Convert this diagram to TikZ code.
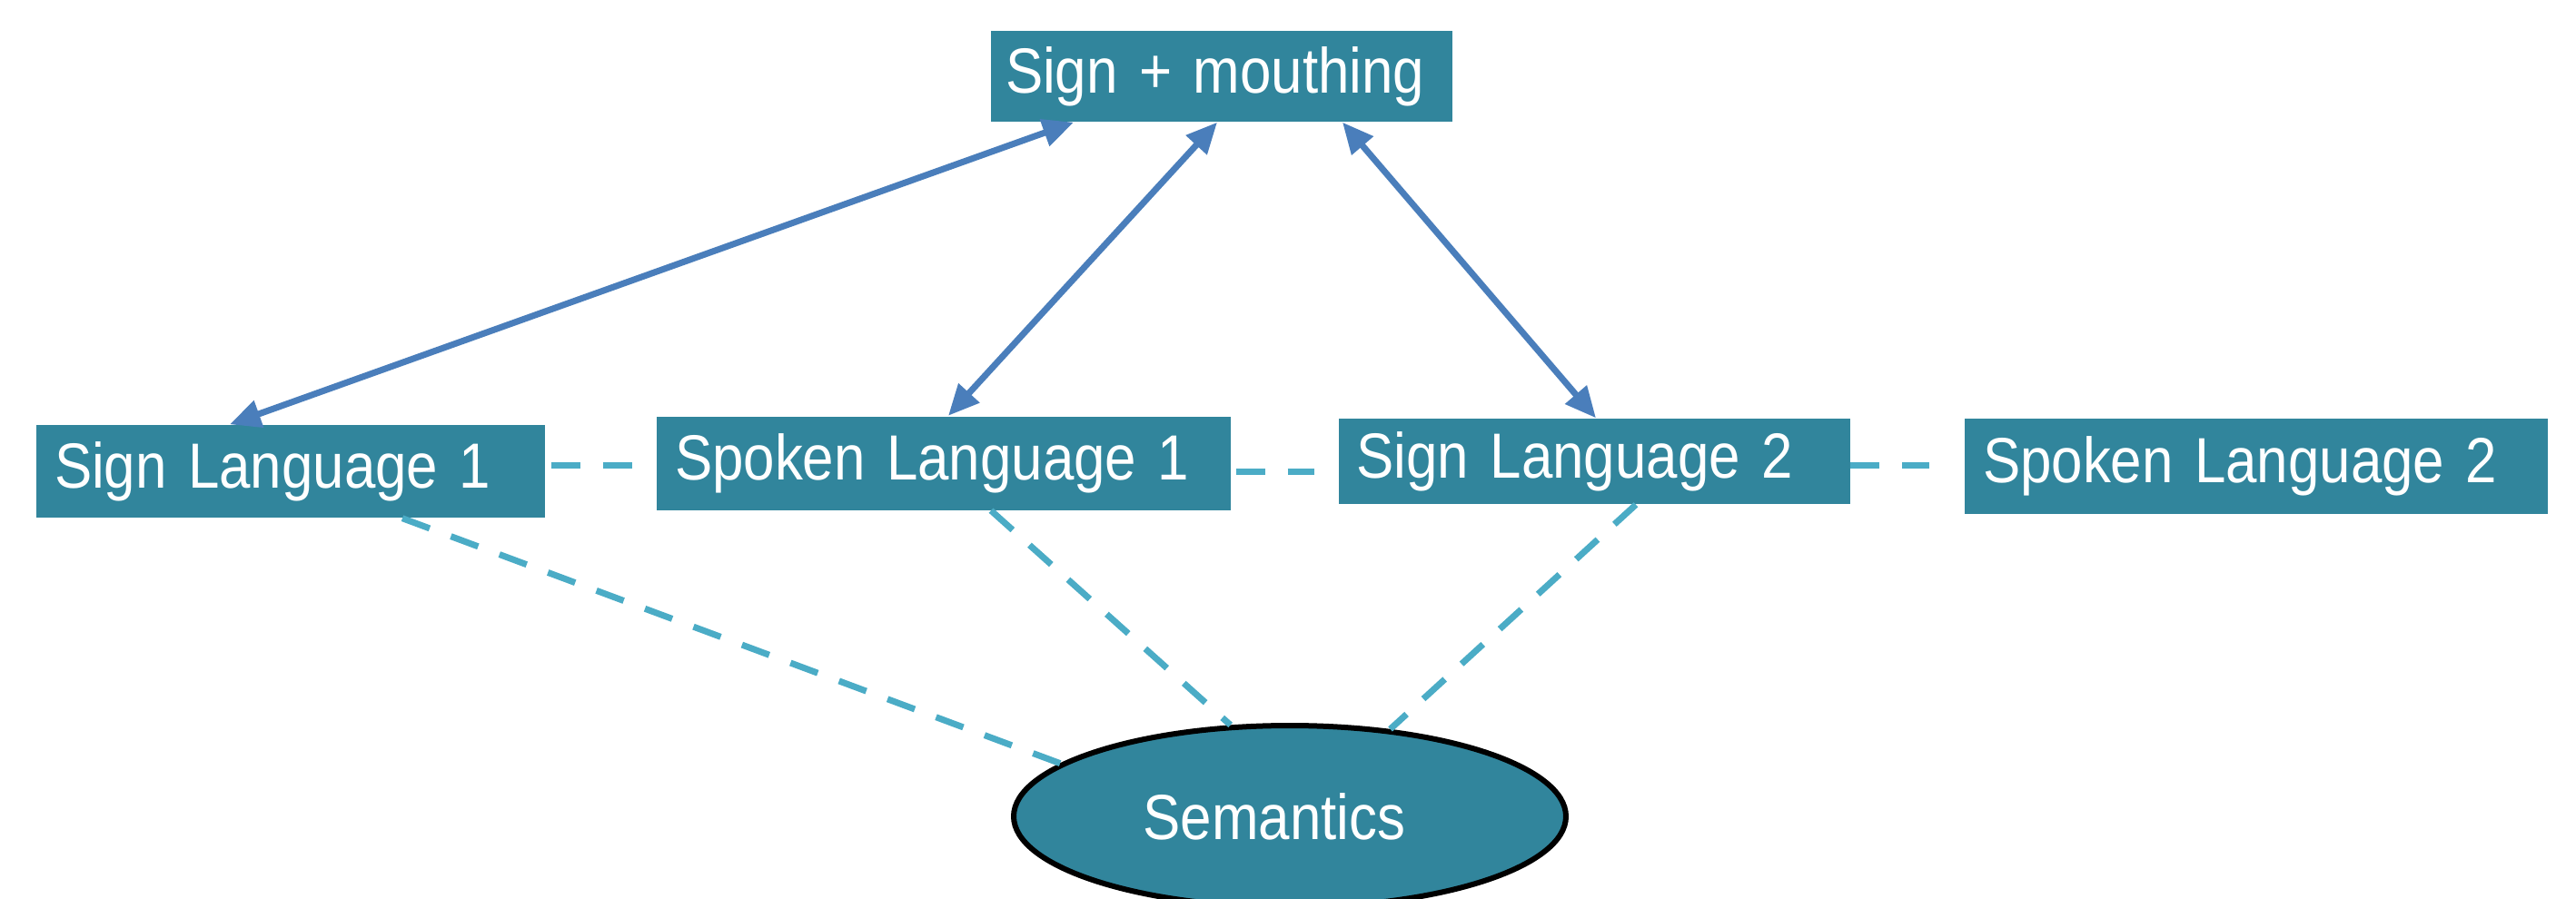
\documentclass[tikz,border=0pt]{standalone}
\usepackage{fontspec}
\setmainfont{Liberation Sans}[FakeStretch=0.88]
\usetikzlibrary{shapes.geometric, arrows.meta}
\definecolor{boxteal}{RGB}{49,133,156}
\definecolor{arrowblue}{RGB}{74,126,187}
\definecolor{dashaqua}{RGB}{75,172,198}

\begin{document}
\begin{tikzpicture}[
  box/.style={rectangle, fill=boxteal, text=white, align=left, inner xsep=0.2cm, inner ysep=0pt, font=\fontsize{20}{22}\selectfont},
  link/.style={arrowblue, line width=0.07cm, {Triangle[length=0.34cm,width=0.3cm]}-{Triangle[length=0.34cm,width=0.3cm]}},
  relation/.style={dashaqua, line width=0.07cm, dash pattern=on 0.32cm off 0.25cm}
]
\useasboundingbox (0,0) rectangle (28.36,-9.89);
\node[box, inner xsep=0.16cm, text width=4.76cm, minimum height=1cm] (sm) at (13.45,-0.84) {Sign + mouthing};
\node[box, text width=5.2cm, minimum height=1.02cm] (sl1) at (3.2,-5.19) {Sign Language 1};
\node[box, text width=5.92cm, minimum height=1.03cm] (spl1) at (10.39,-5.10) {Spoken Language 1};
\node[box, text width=5.23cm, minimum height=0.94cm] (sl2) at (17.55,-5.08) {Sign Language 2};
\node[box, text width=6.02cm, minimum height=1.05cm] (spl2) at (24.84,-5.13) {Spoken Language 2};
\node[ellipse, draw=black, line width=0.06cm, fill=boxteal, text=white, minimum width=6.08cm, minimum height=2cm, inner sep=0pt, font=\fontsize{20}{22}\selectfont] (sem) at (14.2,-8.99) {\hspace*{-0.34cm}Semantics};

\draw[link] ([xshift=-1.63cm]sm.south) -- ([xshift=-0.67cm]sl1.north);
\draw[link] ([xshift=-0.05cm]sm.south) -- ([xshift=0.05cm]spl1.north);
\draw[link] ([xshift=1.33cm]sm.south) -- ([xshift=0.02cm]sl2.north);

\draw[relation, shorten <=0.06cm, shorten >=0.26cm] ([yshift=0.07cm]sl1.east) -- ([yshift=0.07cm]sl1.east -| spl1.west);
\draw[relation, shorten <=0.05cm, shorten >=0.26cm] ([yshift=-0.09cm]spl1.east) -- ([yshift=-0.09cm]spl1.east -| sl2.west);
\draw[relation, shorten >=0.38cm] ([yshift=-0.04cm]sl2.east) -- ([yshift=-0.04cm]sl2.east -| spl2.west);

\draw[relation] ([xshift=1.23cm]sl1.south) -- (sem.167);
\draw[relation] ([xshift=0.52cm]spl1.south) -- (sem.123);
\draw[relation] ([xshift=0.46cm]sl2.south) -- (sem.41);
\end{tikzpicture}
\end{document}
